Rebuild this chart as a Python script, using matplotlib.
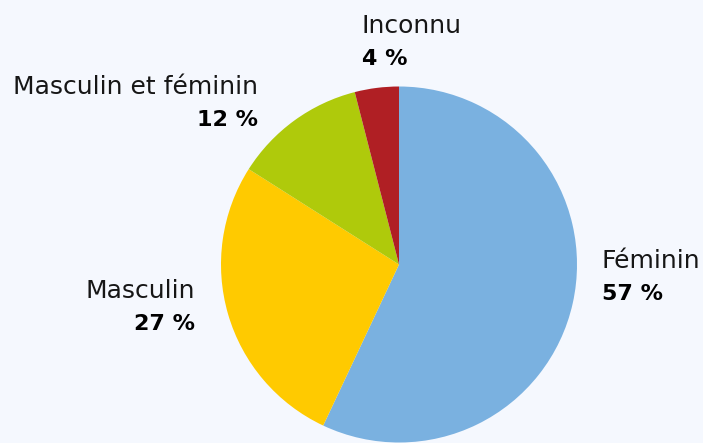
import matplotlib.pyplot as plt

labels = ['Féminin', 'Masculin', 'Masculin et féminin', 'Inconnu']
values = [57, 27, 12, 4]
colors = ['#7AB1E0', '#FFCA00', '#AFCA0B', '#B01F24']

W, H = 703, 443
fig = plt.figure(figsize=(W / 100, H / 100), dpi=100)
bg = '#F5F8FE'
fig.patch.set_facecolor(bg)
ax = fig.add_axes([0, 0, 1, 1])
ax.set_facecolor(bg)
ax.axis('off')

ax.pie(values, colors=colors, startangle=90, counterclock=False,
       center=(399, H - 264.5), radius=178,
       wedgeprops=dict(linewidth=0))
ax.set_xlim(0, W)
ax.set_ylim(0, H)

# label anchor (x, baseline of name line in px from top, alignment)
pos = [(602, 268, 'left'), (195, 298, 'right'), (258, 94, 'right'), (362, 33, 'left')]
for lab, v, (x, y, ha) in zip(labels, values, pos):
    ax.text(x, H - y, lab, ha=ha, va='baseline', fontsize=18, family='DejaVu Sans',
            color='#161616')
    ax.text(x, H - y - 31.5, f'{v} %', ha=ha, va='baseline', fontsize=16,
            family='DejaVu Sans', fontweight='heavy', color='#000000')

fig.savefig('out.png', dpi=100, facecolor=bg)
